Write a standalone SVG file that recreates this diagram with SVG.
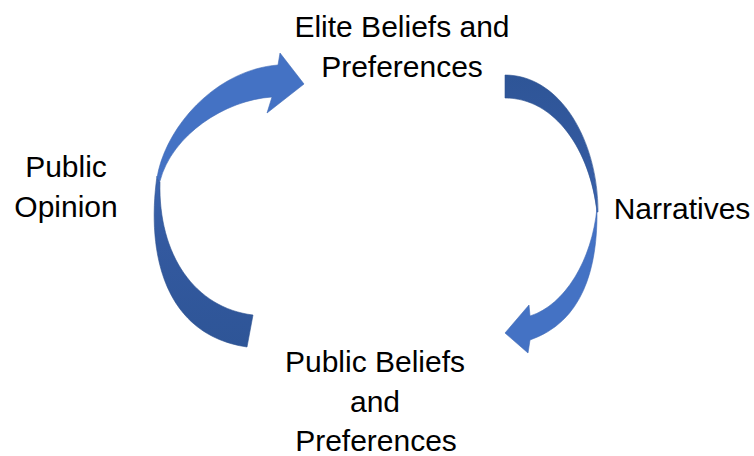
<svg xmlns="http://www.w3.org/2000/svg" width="754" height="456" viewBox="0 0 754 456">
<defs>
<style>
.lbl{font-family:"Liberation Sans",Arial,sans-serif;font-size:30px;fill:#000;text-anchor:middle}
.light{fill:#4472C4;stroke:#3F69B5;stroke-width:0.6}
.dark{stroke:#2E5391;stroke-width:0.6}
</style>
<linearGradient id="gL" gradientUnits="userSpaceOnUse" x1="0" y1="176" x2="0" y2="347">
<stop offset="0" stop-color="#3B65B0"/>
<stop offset="0.4" stop-color="#33599F"/>
<stop offset="1" stop-color="#2E5597"/>
</linearGradient>
<linearGradient id="gR" gradientUnits="userSpaceOnUse" x1="0" y1="75" x2="0" y2="212">
<stop offset="0" stop-color="#2E5597"/>
<stop offset="0.6" stop-color="#33599F"/>
<stop offset="1" stop-color="#3B65B0"/>
</linearGradient>
</defs>
<g id="connectors">
<g id="arrow-public-opinion">
<path class="dark" fill="url(#gL)" d="M157,176 C146,255 165,335 247,347 L253,315 C195,308 158,255 160,182 Z"/>
<path class="light" d="M278,65 L280,53 L304,84 L267,113 L272,97 C225,100 172,135 160,181 L157,178 C165,128 215,70 278,65 Z"/>
</g>
<g id="arrow-narratives">
<path class="dark" fill="url(#gR)" d="M505,75 C560,75 598,140 598,212 L597,212 C590,150 555,98 505,98 Z"/>
<path class="light" d="M597,208 C598,270 582,322 530,340 L528,353 L505,333 L529,305 L530,316 C565,305 592,260 597,208 Z"/>
</g>
</g>
<g id="node-elite">
<text class="lbl" x="402" y="37">Elite Beliefs and</text>
<text class="lbl" x="402" y="77">Preferences</text>
</g>
<g id="node-public">
<text class="lbl" x="375" y="372">Public Beliefs</text>
<text class="lbl" x="375" y="412">and</text>
<text class="lbl" x="376" y="451">Preferences</text>
</g>
<g id="label-public-opinion">
<text class="lbl" x="66" y="177">Public</text>
<text class="lbl" x="66" y="217">Opinion</text>
</g>
<g id="label-narratives">
<text class="lbl" x="682" y="219">Narratives</text>
</g>
</svg>
